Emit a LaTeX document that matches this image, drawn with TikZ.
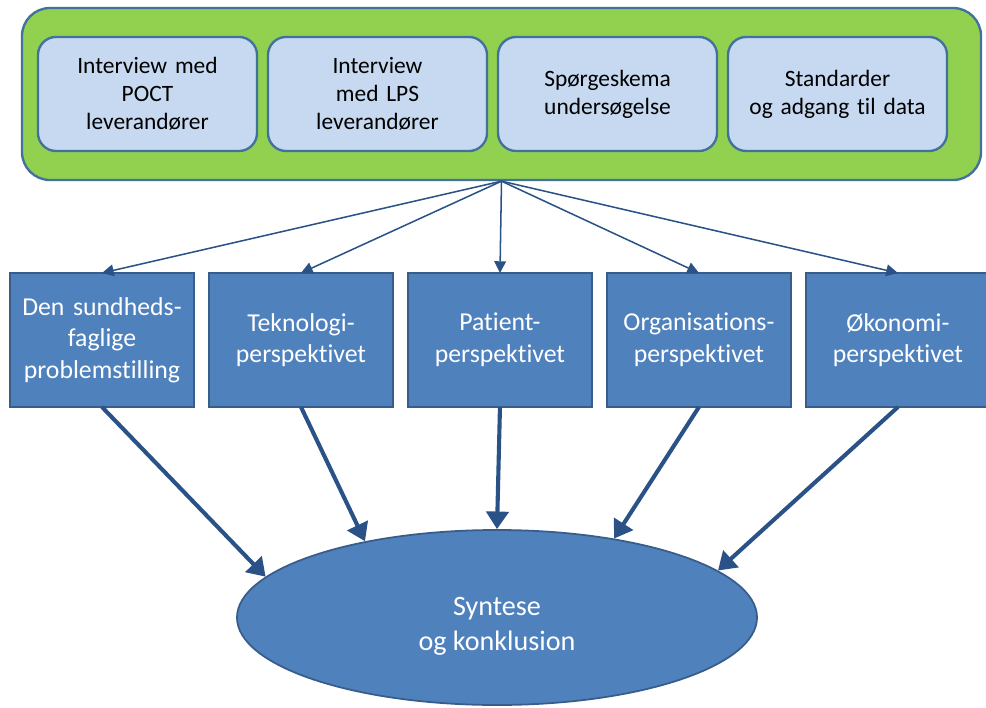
\documentclass[tikz,border=0pt]{standalone}
\usepackage{fontspec}
\setmainfont{Carlito}[Ligatures=NoCommon]
\usetikzlibrary{shapes.geometric, arrows.meta, positioning}
\definecolor{framegreen}{HTML}{92D050}
\definecolor{edgeblue}{HTML}{41719C}
\definecolor{lightfill}{HTML}{C6D9F0}
\definecolor{darkfill}{HTML}{4F81BD}
\definecolor{darkedge}{HTML}{385D8A}
\definecolor{arrowblue}{HTML}{2A5287}
\tikzstyle{frame} = [rectangle, rounded corners=0.84cm, minimum width=28.77cm, minimum height=5.16cm, draw=edgeblue, line width=2pt, fill=framegreen]
\tikzstyle{source} = [rectangle, rounded corners=0.54cm, minimum width=6.57cm, minimum height=3.42cm, text width=6cm, align=center, outer sep=0pt, draw=edgeblue, line width=2pt, fill=lightfill, font=\fontsize{20}{24}\selectfont]
\tikzstyle{perspective} = [rectangle, minimum width=5.52cm, minimum height=4.02cm, text width=5.3cm, align=center, outer sep=0pt, draw=darkedge, line width=1.5pt, fill=darkfill, text=white, font=\fontsize{22}{27}\selectfont]
\tikzstyle{synthesis} = [ellipse, minimum width=15.6cm, minimum height=5.25cm, align=center, text height=60pt, draw=darkedge, line width=1.5pt, fill=darkfill, text=white, font=\fontsize{24}{30}\selectfont]
\tikzstyle{arrow} = [line width=1.3pt, draw=arrowblue, -{Triangle[length=10pt, width=10pt]}]
\tikzstyle{thickarrow} = [line width=3.5pt, draw=arrowblue, -{Triangle[length=15pt, width=19pt]}]

\begin{document}
\begin{tikzpicture}[x=0.03cm, y=-0.03cm]
	\useasboundingbox (0,0) rectangle (986,708);
	\node (frame) [frame] at (501.5,94) {};
	\node (poct) [source] at (147.5,94) {Interview med\\POCT\\leverandører};
	\node (lps) [source, right=0.33cm of poct] {Interview\\med LPS\\leverandører};
	\node (survey) [source, right=0.33cm of lps] {Spørgeskema\\undersøgelse};
	\node (data) [source, right=0.33cm of survey] {Standarder\\og adgang til data};

	\node (health) [perspective] at (102,340) {Den sundheds-\\faglige\\problemstilling};
	\node (tech) [perspective, right=0.435cm of health] {Teknologi-\\perspektivet};
	\node (patient) [perspective, right=0.435cm of tech] {Patient-\\perspektivet};
	\node (org) [perspective, right=0.435cm of patient] {Organisations-\\perspektivet};
	\node (econ) [perspective, right=0.435cm of org] {Økonomi-\\perspektivet};

	\node (syn) [synthesis] at (497,617.5) {Syntese\\og konklusion};

	\draw [arrow] (frame.south) -- (health.north);
	\draw [arrow] (frame.south) -- (tech.north);
	\draw [arrow] (frame.south) -- (patient.north);
	\draw [arrow] (frame.south) -- (org.north);
	\draw [arrow] (frame.south) -- (econ.north);

	\draw [thickarrow] (health.south) -- (syn.170);
	\draw [thickarrow] (tech.south) -- (syn.150);
	\draw [thickarrow] (patient.south) -- (syn.north);
	\draw [thickarrow] (org.south) -- (syn.34);
	\draw [thickarrow] (econ.south) -- (syn.12);
\end{tikzpicture}
\end{document}
